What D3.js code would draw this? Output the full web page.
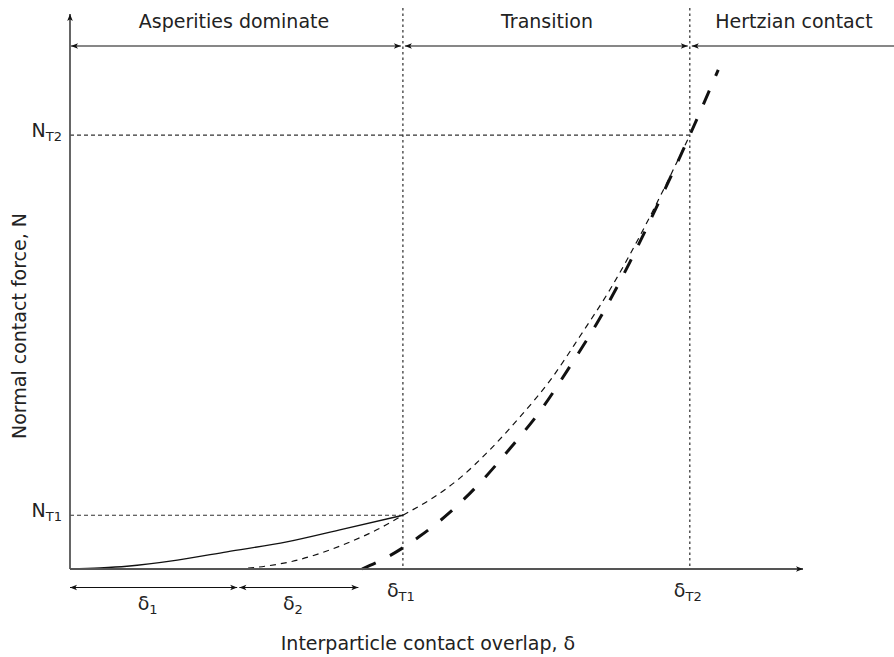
<!DOCTYPE html>
<html>
<head>
<meta charset="utf-8">
<script src="https://cdn.jsdelivr.net/npm/d3@7"></script>
<style>
  html, body { margin: 0; padding: 0; background: #fff; }
  svg { display: block; }
  text { font-family: "DejaVu Sans", Verdana, sans-serif; fill: #222; }
</style>
</head>
<body>
<div id="chart"></div>
<script>
// ---- data (arbitrary units) ----
const regionLabels = ["Asperities dominate", "Transition", "Hertzian contact"];
const regionSpans = [[0, 4.56], [4.56, 8.49], [8.49, 11.3]];
const deltaT = [4.56, 8.49];          // δT1, δT2
const deltaTLabels = ["T1", "T2"];
const forceT = [0.97, 7.83];          // NT1, NT2
const forceTLabels = ["T1", "T2"];
const deltaSpans = [[0, 2.29], [2.32, 3.95]]; // δ1, δ2
const deltaSpanLabels = ["1", "2"];

const solidX = [0, 0.41, 0.78, 1.47, 2.15, 2.97, 3.74, 4.56];
const solidY = [0, 0.02, 0.05, 0.16, 0.31, 0.49, 0.72, 0.97];

const thinX = [2.29, 2.67, 3.05, 3.42, 3.84, 4.25, 4.56, 4.93, 5.34, 5.75, 6.16, 6.58, 6.99, 7.40, 7.81, 8.15, 8.49];
const thinY = [0, 0.05, 0.14, 0.28, 0.49, 0.74, 0.97, 1.25, 1.64, 2.15, 2.74, 3.41, 4.21, 5.05, 6.02, 6.90, 7.83];

const thickX = [4.00, 4.38, 4.79, 5.21, 5.62, 6.03, 6.44, 6.85, 7.26, 7.67, 8.08, 8.49, 8.88];
const thickY = [0, 0.24, 0.59, 1.03, 1.56, 2.18, 2.85, 3.66, 4.53, 5.54, 6.66, 7.83, 9.01];

// ---- layout ----
const W = 894, H = 657;
const x0 = 70, y0 = 569;
const x = d3.scaleLinear().domain([0, 10]).range([x0, 800]);
const y = d3.scaleLinear().domain([0, 10]).range([y0, 15]);

const svg = d3.select("#chart").append("svg").attr("width", W).attr("height", H);

const defs = svg.append("defs");
defs.append("marker")
  .attr("id", "arr")
  .attr("viewBox", "0 -5 10 10")
  .attr("refX", 10).attr("refY", 0)
  .attr("markerUnits", "userSpaceOnUse")
  .attr("markerWidth", 9).attr("markerHeight", 7)
  .attr("orient", "auto-start-reverse")
  .append("path").attr("d", "M0,-4 L10,0 L0,4 L2.5,0 Z").attr("fill", "#111");

const line = d3.line().x(d => x(d[0])).y(d => y(d[1])).curve(d3.curveMonotoneX);

// vertical dotted threshold lines
svg.selectAll(".vdot").data(deltaT).enter().append("line")
  .attr("x1", d => x(d)).attr("x2", d => x(d))
  .attr("y1", 8).attr("y2", y0)
  .attr("stroke", "#555").attr("stroke-width", 1.5)
  .attr("stroke-dasharray", "2.5,3");

// horizontal dashed threshold lines
svg.selectAll(".hdash").data(forceT).enter().append("line")
  .attr("x1", x0).attr("x2", (d, i) => x(deltaT[i]))
  .attr("y1", d => y(d)).attr("y2", d => y(d))
  .attr("stroke", "#333").attr("stroke-width", 1.2)
  .attr("stroke-dasharray", "4,3");

// curves
svg.append("path").datum(solidX.map((v, i) => [v, solidY[i]]))
  .attr("d", line).attr("fill", "none").attr("stroke", "#111").attr("stroke-width", 1.3);
svg.append("path").datum(thinX.map((v, i) => [v, thinY[i]]))
  .attr("d", line).attr("fill", "none").attr("stroke", "#111").attr("stroke-width", 1.2)
  .attr("stroke-dasharray", "6,5");
svg.append("path").datum(thickX.map((v, i) => [v, thickY[i]]))
  .attr("d", line).attr("fill", "none").attr("stroke", "#111").attr("stroke-width", 3)
  .attr("stroke-dasharray", "15,16");

// axes
svg.append("line").attr("x1", x0).attr("x2", x0).attr("y1", y0).attr("y2", 14)
  .attr("stroke", "#555").attr("stroke-width", 1.8).attr("marker-end", "url(#arr)");
svg.append("line").attr("x1", x0).attr("x2", 803).attr("y1", y0).attr("y2", y0)
  .attr("stroke", "#555").attr("stroke-width", 1.8).attr("marker-end", "url(#arr)");

// region arrows
const topY = 46;
svg.selectAll(".reg").data(regionSpans).enter().append("line")
  .attr("x1", (d, i) => x(d[0]) + (i === 0 ? 1 : 2))
  .attr("x2", (d, i) => x(d[1]) - (i === 2 ? -2 : 2))
  .attr("y1", topY).attr("y2", topY)
  .attr("stroke", "#111").attr("stroke-width", 1.1)
  .attr("marker-start", "url(#arr)")
  .attr("marker-end", (d, i) => i === 2 ? null : "url(#arr)");

svg.selectAll(".regLabel").data(regionLabels).enter().append("text")
  .attr("x", (d, i) => [234, 547, 794][i])
  .attr("y", 28)
  .attr("text-anchor", "middle")
  .attr("font-size", 19)
  .text(d => d);

// delta span arrows
const botY = 587.5;
svg.selectAll(".dspan").data(deltaSpans).enter().append("line")
  .attr("x1", d => x(d[0])).attr("x2", d => x(d[1]))
  .attr("y1", botY).attr("y2", botY)
  .attr("stroke", "#111").attr("stroke-width", 1.1)
  .attr("marker-start", "url(#arr)").attr("marker-end", "url(#arr)");

const dsl = svg.selectAll(".dspanLabel").data(deltaSpanLabels).enter().append("text")
  .attr("x", (d, i) => (x(deltaSpans[i][0]) + x(deltaSpans[i][1])) / 2 - 6)
  .attr("y", 610)
  .attr("text-anchor", "middle")
  .attr("font-size", 19);
dsl.append("tspan").text("δ");
dsl.append("tspan").attr("font-size", 13).attr("dy", 4).text(d => d);

// δT labels
const dtl = svg.selectAll(".dtLabel").data(deltaTLabels).enter().append("text")
  .attr("x", (d, i) => x(deltaT[i]) - 2)
  .attr("y", 597)
  .attr("text-anchor", "middle")
  .attr("font-size", 19);
dtl.append("tspan").text("δ");
dtl.append("tspan").attr("font-size", 13).attr("dy", 4).text(d => d);

// NT labels
const ntl = svg.selectAll(".ntLabel").data(forceTLabels).enter().append("text")
  .attr("x", 62)
  .attr("y", (d, i) => y(forceT[i]) + 2)
  .attr("text-anchor", "end")
  .attr("font-size", 19);
ntl.append("tspan").text("N");
ntl.append("tspan").attr("font-size", 13).attr("dy", 4).text(d => d);

// axis titles
svg.append("text").attr("x", 428).attr("y", 650).attr("text-anchor", "middle")
  .attr("font-size", 19).text("Interparticle contact overlap, δ");
svg.append("text").attr("transform", "translate(26,326) rotate(-90)")
  .attr("text-anchor", "middle").attr("font-size", 19).text("Normal contact force, N");
</script>
</body>
</html>
